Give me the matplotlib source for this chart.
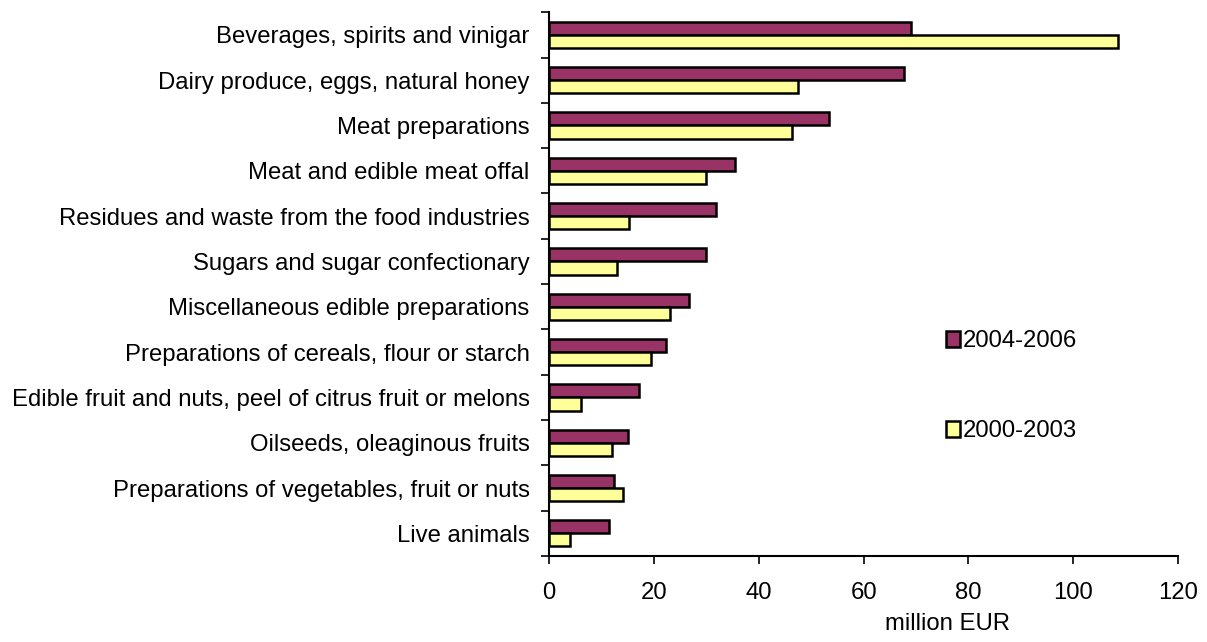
import numpy as np
import matplotlib.pyplot as plt

plt.rcParams['font.family'] = ['Liberation Sans', 'DejaVu Sans']

categories = [
    'Beverages, spirits and vinigar',
    'Dairy produce, eggs, natural honey',
    'Meat preparations',
    'Meat and edible meat offal',
    'Residues and waste from the food industries',
    'Sugars and sugar confectionary',
    'Miscellaneous edible preparations',
    'Preparations of cereals, flour or starch',
    'Edible fruit and nuts, peel of citrus fruit or melons',
    'Oilseeds, oleaginous fruits',
    'Preparations of vegetables, fruit or nuts',
    'Live animals',
]
vals_2004_2006 = [69.0, 67.8, 53.4, 35.4, 31.8, 29.9, 26.7, 22.3, 17.2, 15.0, 12.3, 11.5]
vals_2000_2003 = [108.6, 47.4, 46.4, 30.0, 15.3, 12.9, 23.0, 19.5, 6.1, 11.9, 14.0, 3.9]

x_ticks = [0, 20, 40, 60, 80, 100, 120]

fs = 17.2

fig = plt.figure(figsize=(12.07, 6.42), dpi=100)
ax = fig.add_axes([0.455, 0.134, 0.521, 0.847])

y = np.arange(len(categories))
h = 0.29
ax.barh(y - h / 2, vals_2004_2006, height=h, color='#993366',
        edgecolor='black', linewidth=1.8, label='2004-2006')
ax.barh(y + h / 2, vals_2000_2003, height=h, color='#FFFF99',
        edgecolor='black', linewidth=1.8, label='2000-2003')

ax.set_ylim(len(categories) - 0.5, -0.5)
ax.set_xlim(0, 120)
ax.set_xticks(x_ticks)
ax.tick_params(axis='x', labelsize=fs, length=6, width=1.2, pad=13)

# category ticks sit between groups, labels sit at the group centres
ax.set_yticks(np.arange(len(categories) + 1) - 0.5)
ax.set_yticklabels([])
ax.set_yticks(y, minor=True)
ax.set_yticklabels(categories, minor=True, fontsize=fs)
ax.tick_params(axis='y', which='major', length=6, width=1.2)
ax.tick_params(axis='y', which='minor', length=0, pad=14)

for side in ['top', 'right']:
    ax.spines[side].set_visible(False)
for side in ['left', 'bottom']:
    ax.spines[side].set_linewidth(1.5)

ax.set_xlabel('million EUR', fontsize=fs)
ax.xaxis.set_label_coords(0.633, -0.105)

ax.legend(loc='upper left', bbox_to_anchor=(0.6, 0.45), frameon=False,
          fontsize=fs, handlelength=0.6, handleheight=0.6,
          handletextpad=0.1, labelspacing=2.85, borderpad=0.3)

fig.savefig('out.png', dpi=100)
